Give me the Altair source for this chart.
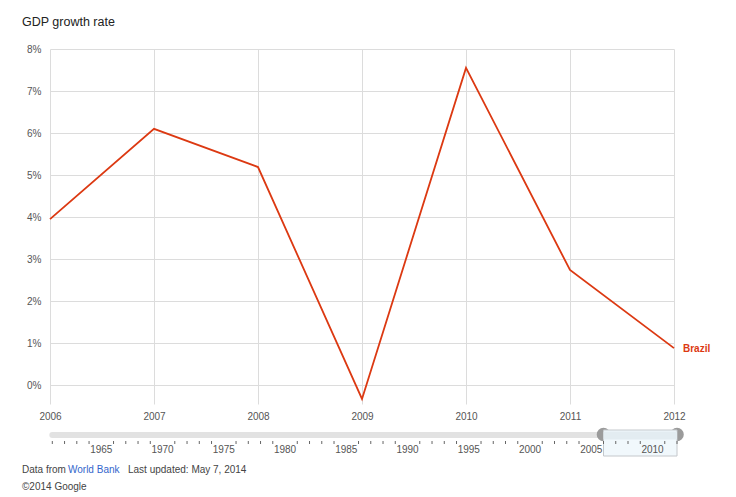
import altair as alt
import pandas as pd

# ---- data ----
years = [2006, 2007, 2008, 2009, 2010, 2011, 2012]
gdp_growth = [3.95, 6.10, 5.19, -0.33, 7.55, 2.74, 0.88]
y_ticks = [0, 1, 2, 3, 4, 5, 6, 7, 8]
series_name = "Brazil"

scrub_years = list(range(1961, 2013))
scrub_label_years = list(range(1965, 2011, 5))
sel_start, sel_end = 2006, 2012

title_text = "GDP growth rate"
footer_source_prefix = "Data from"
footer_source_link = "World Bank"
footer_updated = "Last updated: May 7, 2014"
footer_copyright = "\u00a92014 Google"

FONT = "Liberation Sans"
RED = "#dc3912"
GRID = "#dcdcdc"
LABEL = "#555555"

main_df = pd.DataFrame({"year": years, "gdp": gdp_growth, "series": series_name})
last_df = main_df.tail(1)

x_main = alt.Scale(domain=[years[0], years[-1]], nice=False, zero=False)
y_main = alt.Scale(domain=[-0.45, 8], nice=False, zero=False)

x_axis = alt.Axis(values=years, format="d", title=None, grid=True,
                  gridColor=GRID, ticks=False, domain=False,
                  labelPadding=7, labelFontSize=10, labelColor=LABEL,
                  labelFont=FONT, labelFlush=False, labelOverlap=False)
y_axis = alt.Axis(values=y_ticks, labelExpr="datum.value + '%'",
                  title=None, grid=True, gridColor=GRID, ticks=False,
                  domain=False, labelPadding=9, labelFontSize=10,
                  labelColor=LABEL, labelFont=FONT, labelFlush=False)

line = alt.Chart(main_df).mark_line(color=RED, strokeWidth=1.8).encode(
    x=alt.X("year:Q", scale=x_main, axis=x_axis),
    y=alt.Y("gdp:Q", scale=y_main, axis=y_axis),
)

series_label = alt.Chart(last_df).mark_text(
    align="left", baseline="middle", dx=9, dy=1, fontSize=10,
    fontWeight="bold", color=RED, font=FONT
).encode(
    x=alt.X("year:Q", scale=x_main, axis=x_axis),
    y=alt.Y("gdp:Q", scale=y_main, axis=y_axis),
    text="series:N",
)

main_layer = alt.layer(line, series_label)

# ---- range scrubber ----
x_scrub = alt.Scale(domain=[scrub_years[0], scrub_years[-1]], range=[2.3, 627],
                    nice=False, zero=False)

track_df = pd.DataFrame({"s": [scrub_years[0]], "e": [scrub_years[-1]]})
sel_df = pd.DataFrame({"s": [sel_start], "e": [sel_end]})
handle_df = pd.DataFrame({"h": [sel_start, sel_end]})
tick_df = pd.DataFrame({"y": [y for y in scrub_years if y % 5 != 0]})
lab_df = pd.DataFrame({"y": scrub_label_years})

track = alt.Chart(track_df).mark_rule(
    strokeWidth=6, strokeCap="round", color="#e2e2e2"
).encode(
    x=alt.X("s:Q", scale=x_scrub, axis=None), x2="e:Q",
    y=alt.value(386),
)

handles = alt.Chart(handle_df).mark_point(
    shape="circle", filled=True, size=185, opacity=1, color="#9b9b9b"
).encode(
    x=alt.X("h:Q", scale=x_scrub, axis=None),
    y=alt.value(385.5),
)

sel_box = alt.Chart(sel_df).mark_rect(
    fill="#f1f8fc", stroke="#c4c8cc", strokeWidth=1
).encode(
    x=alt.X("s:Q", scale=x_scrub, axis=None), x2="e:Q",
    y=alt.value(381), y2=alt.value(407),
)

sel_band = alt.Chart(sel_df).mark_rule(
    strokeWidth=8, color="#e3ecf1"
).encode(
    x=alt.X("s:Q", scale=x_scrub, axis=None), x2="e:Q",
    y=alt.value(386.5),
)

ticks = alt.Chart(tick_df).mark_rule(strokeWidth=1, color="#666666").encode(
    x=alt.X("y:Q", scale=x_scrub, axis=None),
    y=alt.value(392), y2=alt.value(395),
)

tick_labels = alt.Chart(lab_df).mark_text(
    baseline="middle", fontSize=10, color=LABEL, font=FONT
).encode(
    x=alt.X("y:Q", scale=x_scrub, axis=None),
    y=alt.value(401),
    text=alt.Text("y:Q", format="d"),
)

scrub_layer = alt.layer(track, handles, sel_box, sel_band, ticks, tick_labels)

# ---- texts ----
def text_layer(txt, x, y, size, color, weight="normal"):
    return alt.Chart(pd.DataFrame({"t": [txt]})).mark_text(
        align="left", baseline="middle", fontSize=size, color=color,
        font=FONT, fontWeight=weight
    ).encode(x=alt.value(x), y=alt.value(y), text="t:N")

texts = alt.layer(
    text_layer(title_text, -28, -27, 12.5, "#222222"),
    text_layer(footer_source_prefix, -28, 421, 10, "#444444"),
    text_layer(footer_source_link, 18, 421, 10, "#3366cc"),
    text_layer(footer_updated, 78, 421, 10, "#444444"),
    text_layer(footer_copyright, -28, 438, 10, "#444444"),
)

chart = alt.layer(main_layer, scrub_layer, texts).resolve_scale(
    x="independent"
).properties(
    width=624, height=355,
    autosize=alt.AutoSizeParams(type="none"),
    padding={"left": 50, "top": 49, "right": 62, "bottom": 93},
    background="white",
).configure(font=FONT).configure_view(stroke=None, strokeWidth=0)

chart.save("out.html", embed_options={"renderer": "svg", "actions": False})
